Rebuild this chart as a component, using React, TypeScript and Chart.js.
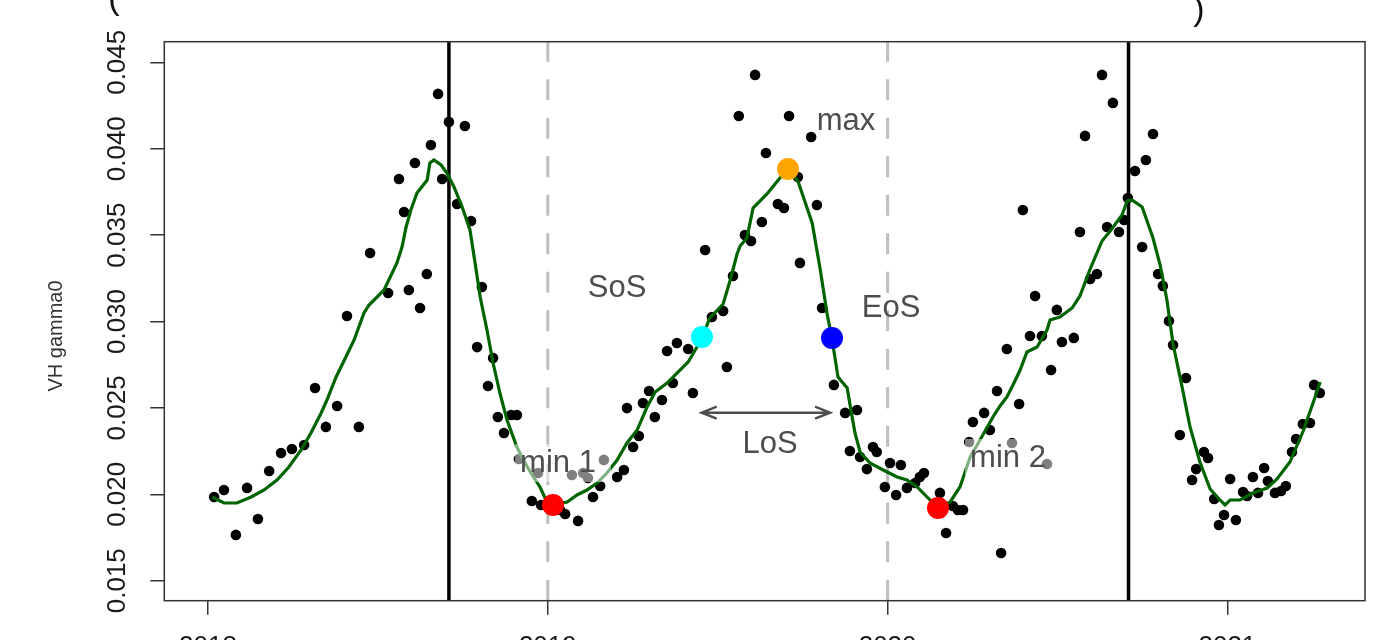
import React, { useEffect, useRef } from "react";
import { Chart, registerables } from "chart.js";

Chart.register(...registerables);

// ---------- data ----------
const obsYear = [
  2018.018, 2018.047, 2018.082, 2018.115, 2018.147, 2018.180, 2018.215, 2018.247, 2018.283, 2018.315,
  2018.347, 2018.380, 2018.409, 2018.444, 2018.477, 2018.530, 2018.562, 2018.577, 2018.591, 2018.609,
  2018.624, 2018.644, 2018.656, 2018.677, 2018.689, 2018.709, 2018.733, 2018.756, 2018.774, 2018.792,
  2018.806, 2018.824, 2018.839, 2018.853, 2018.871, 2018.892, 2018.909, 2018.915, 2018.953, 2018.971,
  2018.980, 2019.036, 2019.051, 2019.071, 2019.089, 2019.104, 2019.118, 2019.133, 2019.154, 2019.165,
  2019.204, 2019.224, 2019.233, 2019.251, 2019.268, 2019.280, 2019.298, 2019.315, 2019.336, 2019.351,
  2019.368, 2019.380, 2019.413, 2019.427, 2019.463, 2019.483, 2019.516, 2019.527, 2019.545, 2019.562,
  2019.580, 2019.598, 2019.610, 2019.630, 2019.642, 2019.677, 2019.695, 2019.710, 2019.736, 2019.742,
  2019.775, 2019.792, 2019.807, 2019.842, 2019.875, 2019.889, 2019.910, 2019.919, 2019.939, 2019.957,
  2019.968, 2019.992, 2020.007, 2020.025, 2020.039, 2020.057, 2020.081, 2020.095, 2020.107, 2020.154,
  2020.172, 2020.192, 2020.207, 2020.222, 2020.240, 2020.251, 2020.284, 2020.301, 2020.322, 2020.334,
  2020.351, 2020.366, 2020.387, 2020.398, 2020.419, 2020.434, 2020.454, 2020.469, 2020.481, 2020.498,
  2020.513, 2020.548, 2020.566, 2020.581, 2020.596, 2020.616, 2020.631, 2020.646, 2020.663, 2020.681,
  2020.696, 2020.707, 2020.728, 2020.749, 2020.760, 2020.781, 2020.796, 2020.810, 2020.828, 2020.840,
  2020.860, 2020.878, 2020.896, 2020.908, 2020.931, 2020.943, 2020.961, 2020.975, 2020.990, 2021.008,
  2021.025, 2021.046, 2021.058, 2021.075, 2021.090, 2021.108, 2021.119, 2021.140, 2021.158, 2021.172,
  2021.190, 2021.202, 2021.222, 2021.243, 2021.255, 2021.272,
];
const obsValue = [
  0.01984, 0.02025, 0.01765, 0.02037, 0.01857, 0.02135, 0.02239, 0.02262, 0.02285, 0.02615,
  0.02390, 0.02511, 0.03032, 0.02390, 0.03396, 0.03165, 0.03825, 0.03634, 0.03182, 0.03917,
  0.03078, 0.03275, 0.04021, 0.04317, 0.03825, 0.04155, 0.03680, 0.04131, 0.03582, 0.02852,
  0.03200, 0.02627, 0.02789, 0.02447, 0.02355, 0.02459, 0.02459, 0.02204, 0.01961, 0.02123,
  0.01938, 0.01909, 0.01886, 0.02112, 0.01846, 0.02123, 0.02094, 0.01984, 0.02048, 0.02199,
  0.02100, 0.02141, 0.02499, 0.02274, 0.02337, 0.02528, 0.02598, 0.02447, 0.02546, 0.02829,
  0.02644, 0.02876, 0.02841, 0.02586, 0.03414, 0.03026, 0.03061, 0.02737, 0.03263, 0.04189,
  0.03501, 0.03466, 0.04427, 0.03576, 0.03975, 0.03680, 0.03657, 0.04189, 0.03836, 0.03339,
  0.04068, 0.03674, 0.03078, 0.02633, 0.02471, 0.02251, 0.02488, 0.02216, 0.02146, 0.02274,
  0.02245, 0.02042, 0.02181, 0.01996, 0.02170, 0.02037, 0.02065, 0.02100, 0.02123, 0.02008,
  0.01776, 0.01932, 0.01909, 0.01909, 0.02303, 0.02418, 0.02471, 0.02372, 0.02598, 0.01660,
  0.02841, 0.02297, 0.02523, 0.03645, 0.02916, 0.03148, 0.02916, 0.02175, 0.02719, 0.03067,
  0.02881, 0.02905, 0.03518, 0.04074, 0.03246, 0.03275, 0.04427, 0.03547, 0.04265, 0.03518,
  0.03587, 0.03715, 0.03871, 0.03431, 0.03935, 0.04085, 0.03275, 0.03206, 0.03003, 0.02864,
  0.02343, 0.02673, 0.02083, 0.02146, 0.02245, 0.02210, 0.01973, 0.01822, 0.01880, 0.02089,
  0.01851, 0.02013, 0.01990, 0.02100, 0.02008, 0.02152, 0.02077, 0.02008, 0.02019, 0.02048,
  0.02245, 0.02320, 0.02407, 0.02413, 0.02633, 0.02586,
];

const smoothYear = [
  2018.012, 2018.047, 2018.085, 2018.127, 2018.165, 2018.203, 2018.238, 2018.274, 2018.303, 2018.333,
  2018.350, 2018.377, 2018.400, 2018.430, 2018.459, 2018.474, 2018.518, 2018.556, 2018.571, 2018.583,
  2018.597, 2018.615, 2018.645, 2018.653, 2018.665, 2018.686, 2018.703, 2018.724, 2018.748, 2018.771,
  2018.786, 2018.801, 2018.821, 2018.839, 2018.859, 2018.880, 2018.909, 2018.933, 2018.954, 2018.977,
  2018.992, 2019.015, 2019.057, 2019.086, 2019.115, 2019.145, 2019.174, 2019.204, 2019.233, 2019.263,
  2019.292, 2019.316, 2019.351, 2019.389, 2019.413, 2019.439, 2019.454, 2019.477, 2019.516, 2019.536,
  2019.557, 2019.566, 2019.586, 2019.604, 2019.645, 2019.683, 2019.707, 2019.736, 2019.778, 2019.801,
  2019.822, 2019.836, 2019.854, 2019.881, 2019.892, 2019.904, 2019.919, 2019.948, 2019.987, 2020.028,
  2020.057, 2020.087, 2020.116, 2020.134, 2020.148, 2020.184, 2020.213, 2020.243, 2020.272, 2020.310,
  2020.331, 2020.351, 2020.369, 2020.390, 2020.410, 2020.440, 2020.469, 2020.478, 2020.507, 2020.543,
  2020.566, 2020.596, 2020.631, 2020.655, 2020.690, 2020.705, 2020.719, 2020.749, 2020.781, 2020.802,
  2020.822, 2020.840, 2020.866, 2020.890, 2020.919, 2020.949, 2020.978, 2020.993, 2021.008, 2021.037,
  2021.075, 2021.117, 2021.146, 2021.184, 2021.223, 2021.252, 2021.273,
];
const smoothValue = [
  0.019844, 0.019497, 0.019497, 0.019844, 0.020249, 0.020828, 0.021580, 0.022564, 0.023548, 0.024705,
  0.025457, 0.026788, 0.027714, 0.028930, 0.030492, 0.030955, 0.031823, 0.033386, 0.034311, 0.035469,
  0.036453, 0.037436, 0.038189, 0.039173, 0.039346, 0.039057, 0.038594, 0.037784, 0.036626, 0.035295,
  0.033386, 0.031418, 0.029508, 0.027599, 0.025862, 0.024300, 0.022737, 0.021812, 0.021117, 0.020423,
  0.019786, 0.019381, 0.019555, 0.019960, 0.020249, 0.020654, 0.021233, 0.021985, 0.022969, 0.023721,
  0.025052, 0.025920, 0.026441, 0.027193, 0.027656, 0.028524, 0.029103, 0.030203, 0.031013, 0.032344,
  0.033906, 0.034369, 0.034832, 0.036568, 0.037379, 0.038304, 0.038825, 0.038131, 0.035700, 0.033096,
  0.030434, 0.029045, 0.026788, 0.026152, 0.024879, 0.023548, 0.022448, 0.021812, 0.021406, 0.021001,
  0.020828, 0.020423, 0.019844, 0.019497, 0.019207, 0.019555, 0.020423, 0.022159, 0.023143, 0.024474,
  0.025110, 0.025631, 0.026325, 0.027193, 0.028235, 0.028524, 0.029508, 0.030087, 0.030261, 0.030781,
  0.031476, 0.033038, 0.034659, 0.035237, 0.036163, 0.036973, 0.037031, 0.036626, 0.034832, 0.033270,
  0.031244, 0.028698, 0.026268, 0.023895, 0.021869, 0.020307, 0.019670, 0.019381, 0.019670, 0.019670,
  0.020075, 0.020365, 0.020886, 0.021869, 0.023663, 0.025284, 0.026499,
];

// phenology metrics: min 1, SoS, max, EoS, min 2
const phenoYear = [2019.0153, 2019.4538, 2019.7069, 2019.8364, 2020.1483];
const phenoValue = [0.019381, 0.029103, 0.038825, 0.029045, 0.019207];
const phenoColors = ["#ff0000", "#00ffff", "#ffa500", "#0000ff", "#ff0000"];

const seasonPeakYears = [2018.709, 2020.709];
const yearBoundaryYears = [2019, 2020];

const labelTexts = ["max", "SoS", "EoS", "LoS", "min 1", "min 2"];
const labelYear = [2019.8776, 2019.2037, 2020.01, 2019.6539, 2019.03, 2020.3543];
const labelValue = [0.041082, 0.031418, 0.030261, 0.02239, 0.021291, 0.02158];
const labelBoxed = [false, false, false, false, true, true];

const losArrowYear = [2019.4529, 2019.8305];
const losArrowValue = 0.024722;

const xTickValues = [2018, 2019, 2020, 2021];
const yTickValues = [0.015, 0.02, 0.025, 0.03, 0.035, 0.04, 0.045];

const X_MIN = 2017.8714;
const X_MAX = 2021.4049;
const Y_MIN = 0.013843;
const Y_MAX = 0.046192;

const FONT = "'Liberation Sans', Arial, Helvetica, sans-serif";

const overlayPlugin = {
  id: "phenoOverlay",
  beforeDatasetsDraw(chart: any) {
    const { ctx, chartArea: a, scales } = chart;
    const x = scales.x;
    ctx.save();
    ctx.beginPath();
    ctx.rect(a.left, a.top, a.right - a.left, a.bottom - a.top);
    ctx.clip();
    ctx.strokeStyle = "#bebebe";
    ctx.lineWidth = 3;
    ctx.setLineDash([21, 17.5]);
    yearBoundaryYears.forEach((v) => {
      const px = x.getPixelForValue(v);
      ctx.beginPath();
      ctx.moveTo(px, a.bottom);
      ctx.lineTo(px, a.top);
      ctx.stroke();
    });
    ctx.setLineDash([]);
    ctx.strokeStyle = "#000";
    ctx.lineWidth = 3.5;
    seasonPeakYears.forEach((v) => {
      const px = x.getPixelForValue(v);
      ctx.beginPath();
      ctx.moveTo(px, a.bottom);
      ctx.lineTo(px, a.top);
      ctx.stroke();
    });
    ctx.restore();
  },
  afterDatasetsDraw(chart: any) {
    const { ctx, scales } = chart;
    const x = scales.x;
    const y = scales.y;
    ctx.save();
    ctx.font = `31px ${FONT}`;
    ctx.textAlign = "center";
    ctx.textBaseline = "alphabetic";
    labelTexts.forEach((t, i) => {
      const px = x.getPixelForValue(labelYear[i]);
      const py = y.getPixelForValue(labelValue[i]);
      if (labelBoxed[i]) {
        const w = ctx.measureText(t).width;
        ctx.fillStyle = "rgba(255,255,255,0.5)";
        ctx.fillRect(px - w / 2 - 5, py - 28, w + 20, 38);
      }
      ctx.fillStyle = "#4d4d4d";
      ctx.fillText(t, px, py);
    });
    // LoS double arrow
    const x1 = x.getPixelForValue(losArrowYear[0]);
    const x2 = x.getPixelForValue(losArrowYear[1]);
    const ay = y.getPixelForValue(losArrowValue);
    ctx.strokeStyle = "#4d4d4d";
    ctx.lineWidth = 2.5;
    ctx.beginPath();
    ctx.moveTo(x1, ay);
    ctx.lineTo(x2, ay);
    ctx.moveTo(x1 + 15, ay - 6);
    ctx.lineTo(x1, ay);
    ctx.lineTo(x1 + 15, ay + 6);
    ctx.moveTo(x2 - 15, ay - 6);
    ctx.lineTo(x2, ay);
    ctx.lineTo(x2 - 15, ay + 6);
    ctx.stroke();
    ctx.restore();
  },
  afterDraw(chart: any) {
    const { ctx, chartArea: a } = chart;
    ctx.save();
    ctx.strokeStyle = "#333";
    ctx.lineWidth = 1.5;
    ctx.strokeRect(a.left, a.top, a.right - a.left, a.bottom - a.top);
    // y axis title
    ctx.fillStyle = "#333";
    ctx.font = `20px ${FONT}`;
    ctx.textAlign = "center";
    ctx.textBaseline = "middle";
    ctx.translate(56, 336);
    ctx.rotate(-Math.PI / 2);
    ctx.fillText("VH gamma0", 0, 0);
    ctx.restore();
    // cut-off main title (only the parentheses' lower ends are visible)
    ctx.save();
    ctx.fillStyle = "#111";
    ctx.font = `34px ${FONT}`;
    ctx.textAlign = "center";
    ctx.textBaseline = "alphabetic";
    ctx.fillText("(", 114, 9);
    ctx.fillText(")", 1199, 20);
    ctx.restore();
  },
};

export default function App() {
  const ref = useRef<HTMLCanvasElement>(null);

  useEffect(() => {
    if (!ref.current) return;
    Chart.defaults.font.family = FONT;
    const chart = new Chart(ref.current, {
      type: "scatter",
      data: {
        datasets: [
          {
            label: "metrics",
            data: phenoYear.map((v, i) => ({ x: v, y: phenoValue[i] })),
            backgroundColor: phenoColors,
            pointRadius: 11,
            pointHoverRadius: 11,
            borderWidth: 0,
            order: 1,
          },
          {
            label: "smoothed",
            data: smoothYear.map((v, i) => ({ x: v, y: smoothValue[i] })),
            showLine: true,
            borderColor: "#006400",
            borderWidth: 3.2,
            pointRadius: 0,
            pointHoverRadius: 0,
            fill: false,
            tension: 0,
            order: 2,
          },
          {
            label: "VH gamma0",
            data: obsYear.map((v, i) => ({ x: v, y: obsValue[i] })),
            backgroundColor: "#000",
            pointRadius: 5.3,
            pointHoverRadius: 5.3,
            borderWidth: 0,
            order: 3,
          },
        ],
      },
      options: {
        animation: false,
        responsive: false,
        devicePixelRatio: 1,
        events: [],
        layout: { padding: { left: 0, top: 41.7, right: 35, bottom: 0 } },
        plugins: { legend: { display: false }, tooltip: { enabled: false }, title: { display: false } },
        scales: {
          x: {
            type: "linear",
            position: "bottom",
            min: X_MIN,
            max: X_MAX,
            afterBuildTicks: (s: any) => {
              s.ticks = xTickValues.map((v) => ({ value: v }));
            },
            afterFit: (s: any) => {
              s.height = 39.3;
            },
            ticks: {
              color: "#1a1a1a",
              font: { size: 26 },
              padding: 17,
              minRotation: 0,
              maxRotation: 0,
              autoSkip: false,
              callback: (v: any) => String(v),
            },
            grid: { drawOnChartArea: false, drawTicks: true, tickLength: 14, color: "#333", lineWidth: 1.5 },
            border: { display: false },
          },
          y: {
            type: "linear",
            min: Y_MIN,
            max: Y_MAX,
            afterBuildTicks: (s: any) => {
              s.ticks = yTickValues.map((v) => ({ value: v }));
            },
            afterFit: (s: any) => {
              s.width = 164.3;
            },
            ticks: {
              color: "#1a1a1a",
              font: { size: 26 },
              padding: 0,
              minRotation: 90,
              maxRotation: 90,
              crossAlign: "center",
              autoSkip: false,
              callback: (v: any) => Number(v).toFixed(3),
            },
            grid: { drawOnChartArea: false, drawTicks: true, tickLength: 14, color: "#333", lineWidth: 1.5 },
            border: { display: false },
          },
        },
      },
      plugins: [overlayPlugin],
    } as any);
    return () => chart.destroy();
  }, []);

  return (
    <div style={{ position: "fixed", left: 0, top: 0, width: 1400, height: 640, background: "#fff" }}>
      <canvas ref={ref} width={1400} height={640} style={{ display: "block", width: 1400, height: 640 }} />
    </div>
  );
}
